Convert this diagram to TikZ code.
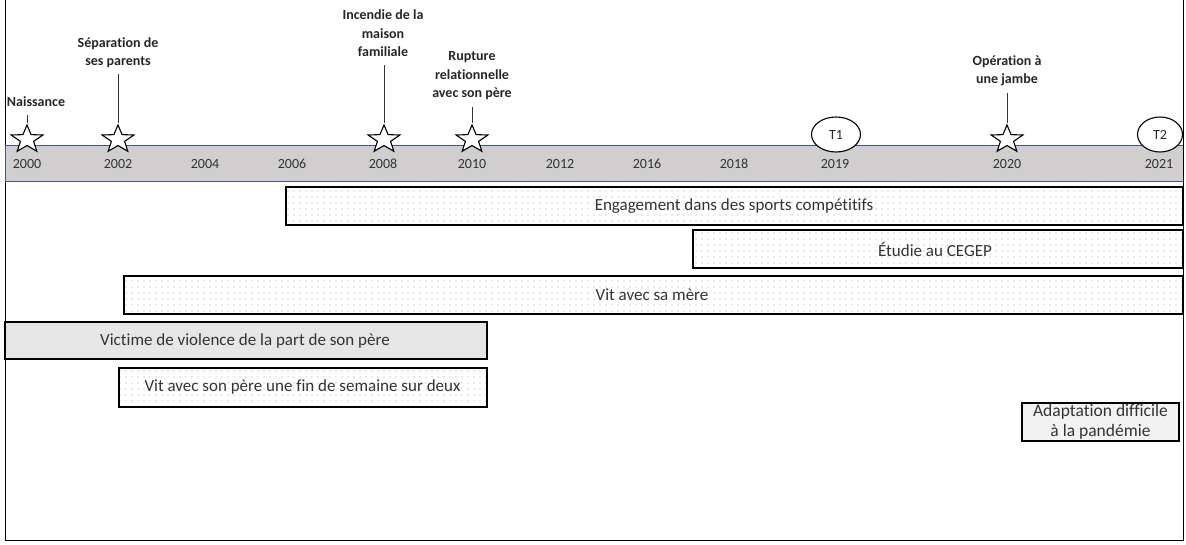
\documentclass[tikz,border=0pt]{standalone}
\usepackage{fontspec}
\setmainfont{Carlito}[Ligatures=CommonOff]
\usetikzlibrary{shapes.geometric,patterns.meta}
\definecolor{bandgray}{RGB}{208,206,206}
\definecolor{bandline}{RGB}{68,84,140}
\definecolor{lightbox}{RGB}{231,230,230}
\definecolor{paleBox}{RGB}{242,242,242}
\tikzset{
  evstar/.style={star, star points=5, star point ratio=2.4, draw, line width=1.1pt, fill=white, minimum size=29pt, inner sep=0pt, transform shape},
  evlabel/.style={font=\bfseries\fontsize{14}{18.5}\selectfont, align=center, text=black!85},
  yearlbl/.style={font=\fontsize{14}{16}\selectfont, text=black!80},
  period/.style={draw, line width=1.3pt, pattern={Dots[distance=6pt, radius=0.55pt]}, pattern color=black!35},
  barlbl/.style={font=\fontsize{17}{20}\selectfont, text=black!80},
  marker/.style={ellipse, draw, line width=1.1pt, fill=white, minimum width=49pt, minimum height=35pt, inner sep=0pt, font=\fontsize{14}{16}\selectfont, text=black!85},
  stem/.style={line width=1pt, black!80}
}
\begin{document}
\begin{tikzpicture}[x=1pt,y=-1pt]
\useasboundingbox (0,0) rectangle (1186,545);
% outer frame
\draw[line width=1pt] (5,0) -- (5,540) -- (1183,540) -- (1183,0);

% timeline band
\fill[bandgray] (5,145) rectangle (1183,181);
\draw[bandline, line width=0.8pt] (5,145) -- (1183,145);
\draw[bandline, line width=0.8pt] (5,181) -- (1183,181);
\draw[bandline, line width=0.8pt] (5,145) -- (5,181);

% years
\foreach \x/\y in {27/2000,118/2002,205/2004,292/2006,383/2008,472/2010,560/2012,647/2016,734/2018,835/2019,1007/2020,1159/2021}
  \node[yearlbl] (y\y) at (\x,164) {\y};

% events (stars slightly widened)
\foreach \nm/\x in {Naiss/27,Sep/118,Feu/384,Rupt/472,Op/1007}{
  \begin{scope}[shift={(\x,139.5)}, xscale=1.15]
    \node[evstar] (s\nm) at (0,0) {};
  \end{scope}
}

\coordinate (cNaiss) at (27,115);
\coordinate (cSep) at (118,74);
\coordinate (cFeu) at (384,65);
\coordinate (cRupt) at (472,107);
\coordinate (cOp) at (1007,93);
\draw[stem] (sNaiss.north) -- (cNaiss);
\draw[stem] (sSep.north) -- (cSep);
\draw[stem] (sFeu.north) -- (cFeu);
\draw[stem] (sRupt.north) -- (cRupt);
\draw[stem] (sOp.north) -- (cOp);

\node[evlabel] (lNaiss) at (36,102) {Naissance};
\node[evlabel] (lSep) at (118,52.5) {Séparation de\\ses parents};
\node[evlabel] (lFeu) at (383,33.5) {Incendie de la\\maison\\familiale};
\node[evlabel] (lRupt) at (472,76) {Rupture\\relationnelle\\avec son père};
\node[evlabel] (lOp) at (1007,71) {Opération à\\une jambe};

% measurement times
\node[marker] (t1) at (836,134.5) {T1};
\node[marker, minimum width=45pt] (t2) at (1160,134.5) {T2};

% life periods
\draw[period] (286,187) rectangle (1183,225);
\node[barlbl] (pSport) at (734,206) {Engagement dans des sports compétitifs};
\draw[period] (693,230) rectangle (1183,268);
\node[barlbl] (pCegep) at (935,249) {Étudie au CEGEP};
\draw[period] (124,276) rectangle (1183,314);
\node[barlbl] (pMere) at (652,295) {Vit avec sa mère};
\draw[line width=1.3pt, fill=lightbox] (5,322) rectangle (487,359);
\node[barlbl] (pViol) at (245,341) {Victime de violence de la part de son père};
\draw[period] (119,368) rectangle (487,407);
\node[barlbl] (pPere) at (302.5,387) {Vit avec son père une fin de semaine sur deux};
\node[draw, line width=1.1pt, fill=paleBox, minimum width=157pt, minimum height=38pt, inner sep=0pt, align=center, font=\fontsize{17.5}{20.5}\selectfont, text=black!80] (pPand) at (1100.5,422) {Adaptation difficile\\à la pandémie};
\end{tikzpicture}
\end{document}
